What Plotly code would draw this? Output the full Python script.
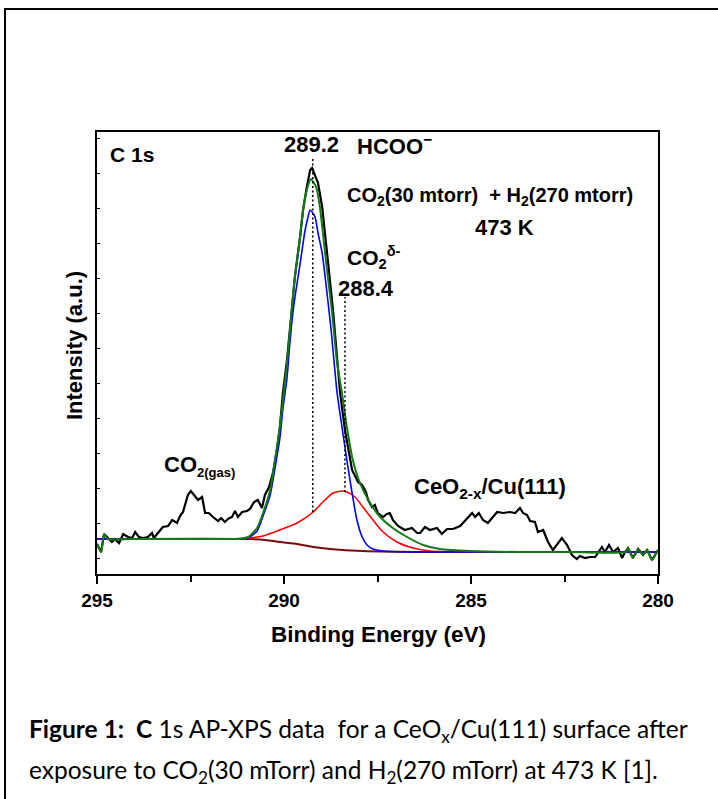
import plotly.graph_objects as go

# ---------------- data (binding energy in eV, intensity in a.u.) ----------------
data_energy = [295.00, 294.89, 294.81, 294.71, 294.60, 294.52, 294.41, 294.30, 294.17, 294.06,
               293.98, 293.88, 293.77, 293.64, 293.53, 293.48, 293.37, 293.24, 293.10, 292.99,
               292.86, 292.78, 292.70, 292.57, 292.49, 292.38, 292.30, 292.19, 292.11, 292.01,
               291.90, 291.76, 291.68, 291.58, 291.50, 291.39, 291.31, 291.23, 291.12, 290.99,
               290.91, 290.80, 290.70, 290.59, 290.51, 290.40, 290.29, 290.19, 290.11, 290.03,
               289.92, 289.81, 289.71, 289.57, 289.49, 289.39, 289.30, 289.25, 289.12, 289.09,
               288.98, 288.90, 288.82, 288.69, 288.58, 288.50, 288.37, 288.18, 288.02, 287.91,
               287.81, 287.75, 287.65, 287.57, 287.49, 287.35, 287.25, 287.17, 287.09, 286.95,
               286.77, 286.58, 286.44, 286.36, 286.23, 286.10, 285.91, 285.78, 285.64, 285.48,
               285.29, 285.16, 284.97, 284.89, 284.79, 284.68, 284.55, 284.30, 284.14, 283.96,
               283.82, 283.69, 283.61, 283.50, 283.42, 283.29, 283.21, 283.07, 282.94, 282.81,
               282.70, 282.57, 282.43, 282.30, 282.17, 282.09, 281.95, 281.82, 281.68, 281.60,
               281.50, 281.42, 281.31, 281.20, 281.07, 280.96, 280.88, 280.80, 280.67, 280.53,
               280.40, 280.29, 280.16, 280.03, 280.00]
data_intensity = [30, 22, 40, 36, 32, 35, 31, 40, 37, 36,
                  42, 37, 36, 37, 41, 36, 41, 47, 48, 54,
                  51, 58, 62, 79, 83, 78, 74, 77, 61, 61,
                  57, 53, 56, 52, 55, 57, 63, 57, 62, 63,
                  65, 72, 74, 66, 79, 87, 102, 124, 147, 181,
                  214, 257, 297, 337, 364, 387, 404, 406, 394, 391,
                  367, 341, 311, 264, 211, 181, 144, 104, 92, 89,
                  82, 74, 67, 69, 61, 57, 60, 61, 54, 48,
                  44, 46, 41, 41, 47, 44, 46, 40, 45, 45,
                  48, 53, 61, 57, 61, 54, 51, 62, 61, 62,
                  61, 66, 61, 59, 53, 52, 42, 44, 32, 24,
                  29, 36, 29, 19, 15, 18, 16, 17, 17, 22,
                  27, 22, 29, 22, 26, 16, 22, 26, 16, 25,
                  19, 24, 14, 22, 24]

envelope_energy = [295.00, 294.89, 294.81, 294.71, 294.12, 292.78, 291.71, 291.26, 290.96, 290.72,
                   290.56, 290.37, 290.24, 290.11, 289.92, 289.81, 289.71, 289.57, 289.49, 289.39,
                   289.28, 289.14, 289.04, 288.96, 288.85, 288.72, 288.58, 288.45, 288.32, 288.16,
                   287.97, 287.70, 287.43, 287.09, 286.71, 286.28, 285.83, 285.03, 283.69, 282.35,
                   280.86, 280.80, 280.67, 280.53, 280.40, 280.29, 280.16, 280.03, 280.00]
envelope_intensity = [30, 22, 40, 35, 35, 35, 35, 35, 37, 46,
                      61, 84, 114, 147, 211, 257, 297, 337, 364, 384,
                      395, 387, 367, 341, 304, 264, 211, 181, 147, 114,
                      91, 71, 57, 46, 37, 29, 25, 23, 22, 22,
                      22, 26, 16, 25, 19, 24, 14, 22, 24]

formate_energy = [295.00, 291.26, 290.96, 290.72, 290.56, 290.37, 290.24, 290.11, 290.03, 289.92,
                  289.84, 289.76, 289.65, 289.57, 289.52, 289.44, 289.37, 289.30, 289.17, 289.09,
                  288.98, 288.90, 288.82, 288.74, 288.69, 288.58, 288.45, 288.32, 288.18, 288.05,
                  287.91, 287.78, 287.62, 287.35, 286.50, 280.00]
formate_intensity = [35, 35, 36, 43, 58, 79, 106, 136, 165, 196,
                     232, 262, 291, 310, 323, 343, 355, 364, 357, 341,
                     321, 297, 271, 244, 224, 181, 147, 114, 81, 54,
                     37, 29, 25, 23, 22, 22]

co2_energy = [295.00, 292.78, 291.44, 290.91, 290.56, 290.11, 289.65, 289.22, 288.96, 288.69,
              288.45, 288.32, 288.10, 287.89, 287.62, 287.35, 286.98, 286.55, 286.10, 284.22, 280.00]
co2_intensity = [35, 35, 35, 36, 38, 44, 51, 62, 72, 81,
                 83, 82, 77, 67, 54, 42, 32, 26, 23, 22, 22]

bg_energy = [295.00, 290.91, 290.50, 290.11, 289.65, 289.22, 288.77, 287.89, 286.10, 280.00]
bg_intensity = [35, 35, 34, 32, 30, 27, 25, 23, 22, 22]

peak_positions = [289.23, 288.37]
peak_line_bottoms = [62, 82]
peak_line_tops = [416, 277]

x_tick_values = [295, 290, 285, 280]

# ---------------- figure ----------------
FONT = "Liberation Sans, Arial, sans-serif"
fig = go.Figure()

fig.add_trace(go.Scatter(x=data_energy, y=data_intensity, mode="lines",
                         line=dict(color="#000000", width=2.2), hoverinfo="skip"))
fig.add_trace(go.Scatter(x=bg_energy, y=bg_intensity, mode="lines",
                         line=dict(color="#7a0a0a", width=2, shape="spline", smoothing=0.6),
                         hoverinfo="skip"))
fig.add_trace(go.Scatter(x=co2_energy, y=co2_intensity, mode="lines",
                         line=dict(color="#ff0000", width=1.6, shape="spline", smoothing=0.6),
                         hoverinfo="skip"))
fig.add_trace(go.Scatter(x=formate_energy, y=formate_intensity, mode="lines",
                         line=dict(color="#0000ff", width=1.6, shape="spline", smoothing=0.6),
                         hoverinfo="skip"))
fig.add_trace(go.Scatter(x=envelope_energy, y=envelope_intensity, mode="lines",
                         line=dict(color="#137a13", width=2, shape="spline", smoothing=0.5),
                         hoverinfo="skip"))

shapes = []
for xp, yb, yt in zip(peak_positions, peak_line_bottoms, peak_line_tops):
    shapes.append(dict(type="line", xref="x", yref="y", x0=xp, x1=xp, y0=yb, y1=yt,
                       line=dict(color="#000000", width=1.5, dash="2px,2.5px")))
# outer frame of the figure panel
shapes.append(dict(type="rect", xref="paper", yref="paper", x0=-0.164, x1=1.3, y0=-0.7, y1=1.278,
                   line=dict(color="#000000", width=2), layer="below"))

ann = []
def add(text, x, y, xanchor="left", size=22, weight="bold", family=FONT, textangle=0):
    ann.append(dict(text=text, x=x, y=y, xref="paper", yref="paper", xanchor=xanchor,
                    yanchor="middle", showarrow=False, textangle=textangle,
                    font=dict(family=family, size=size, color="#000000", weight=weight)))

add("C 1s", 0.0196, 0.948, size=21)
add("289.2", 0.383, 0.971, xanchor="center", size=22)
add("HCOO<sup>\u2212</sup>", 0.46, 0.971, size=22)
add("CO<sub>2</sub>(30 mtorr)  + H<sub>2</sub>(270 mtorr)", 0.442, 0.855, size=20)
add("473 K", 0.670, 0.783, size=22)
add("CO<sub>2</sub><sup>\u03b4-</sup>", 0.442, 0.715, size=21)
add("288.4", 0.48, 0.645, xanchor="center", size=22)
add("CO<sub><span style='font-size:13px'>2(gas)</span></sub>", 0.116, 0.244, size=22)
add("CeO<sub>2-x</sub>/Cu(111)", 0.561, 0.195, size=22)
add("Intensity (a.u.)", -0.039, 0.516, xanchor="center", size=22, textangle=-90)
add("Binding Energy (eV)", 0.501, -0.136, xanchor="center", size=22.5)

CAP = "Lato, Calibri, sans-serif"
add("<b>Figure 1:  C</b> 1s AP-XPS data  for a CeO<sub>x</sub>/Cu(111) surface after",
    -0.125, -0.355, size=24.5, weight="normal", family=CAP)
add("exposure to CO<sub>2</sub>(30 mTorr) and H<sub>2</sub>(270 mTorr) at 473 K [1].",
    -0.125, -0.446, size=24.5, weight="normal", family=CAP)

fig.update_layout(
    width=718, height=799, autosize=False,
    margin=dict(l=97, r=60, t=132, b=225, pad=0),
    paper_bgcolor="white", plot_bgcolor="white",
    showlegend=False,
    shapes=shapes, annotations=ann,
    xaxis=dict(range=[295, 280], tickmode="array", tickvals=x_tick_values,
               ticktext=[str(v) for v in x_tick_values],
               ticks="outside", ticklen=8, tickwidth=1.5, tickcolor="#000000",
               minor=dict(dtick=2.5, tick0=280, ticks="outside", ticklen=6, tickwidth=1.5,
                          tickcolor="#000000"),
               showline=True, linewidth=1.5, linecolor="#000000", mirror=True,
               showgrid=False, zeroline=False,
               tickfont=dict(family=FONT, size=19, color="#000000", weight="bold")),
    yaxis=dict(range=[0, 442], tickmode="linear", tick0=16, dtick=35,
               ticks="inside", ticklen=3, tickwidth=1, tickcolor="#000000",
               showticklabels=False,
               showline=True, linewidth=1.5, linecolor="#000000", mirror=True,
               showgrid=False, zeroline=False),
)

fig.write_html("out.html")
